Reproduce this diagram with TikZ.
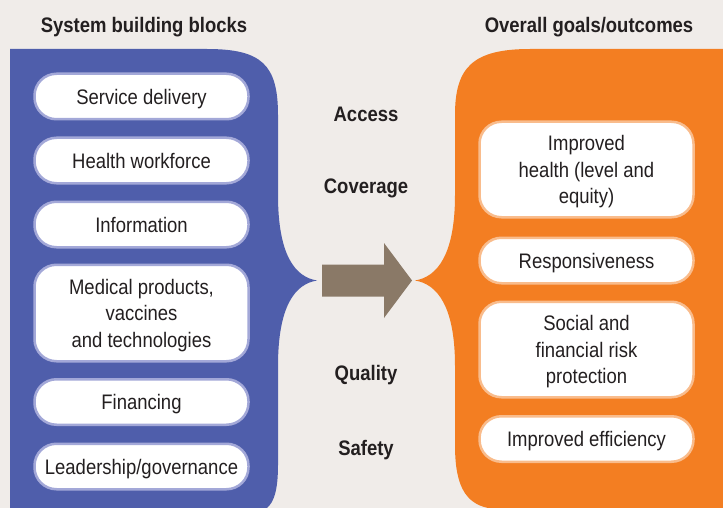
\documentclass[tikz,border=0pt]{standalone}
\usepackage{fontspec}
\setmainfont{Liberation Sans}[FakeStretch=0.88]
\usetikzlibrary{positioning}

\definecolor{paper}{HTML}{F0ECE9}
\definecolor{sysblue}{HTML}{4F5EAB}
\definecolor{goalorange}{HTML}{F37E22}
\definecolor{arrowbrown}{HTML}{8A7967}
\definecolor{blueedge}{HTML}{A3A8D8}
\definecolor{orangeedge}{HTML}{F9BC8C}
\definecolor{ink}{HTML}{231F20}

\begin{document}
\begin{tikzpicture}[x=1pt, y=-1pt,
	block/.style={rectangle, rounded corners=22pt, draw=blueedge, line width=2.5pt, fill=white, minimum width=214pt, minimum height=45.5pt, align=center, text=ink, inner sep=2pt, text depth=0pt, font=\fontsize{21}{26.5}\selectfont},
	goal/.style={block, draw=orangeedge},
	heading/.style={text=ink, font=\fontsize{21}{24}\selectfont\bfseries},
]
	\useasboundingbox (0,0) rectangle (723,508);
	\fill[paper] (0,0) rectangle (723,508);

	% Blue panel (left)
	\fill[sysblue] (10,508) -- (10,49) -- (207,49) .. controls (262,49) and (278,65) .. (278,115)
		-- (278,195) .. controls (278,255) and (295,277) .. (317,280.5)
		.. controls (295,284) and (278,306) .. (278,366)
		-- (278,465) .. controls (278,490) and (274,502) .. (267,508) -- cycle;

	% Orange panel (right)
	\fill[goalorange] (723,49) -- (530,49) .. controls (472,49) and (455,68) .. (455,115)
		-- (455,195) .. controls (455,255) and (437,277) .. (415,280.5)
		.. controls (437,284) and (455,306) .. (455,366)
		-- (455,445) .. controls (455,485) and (465,503) .. (488,508) -- (723,508) -- cycle;

	% Big arrow (middle)
	\fill[arrowbrown] (322,264.5) -- (384,264.5) -- (384,243) -- (412,280.5) -- (384,318) -- (384,296.5) -- (322,296.5) -- cycle;

	% Titles
	\node[heading] (systitle) at (144,27.5) {System building blocks};
	\node[heading] (goaltitle) at (589,27.5) {Overall goals/outcomes};

	% Building blocks (left)
	\node[block] (service) at (141.5,96.5) {Service delivery};
	\node[block] (workforce) at (141.5,160.5) {Health workforce};
	\node[block] (info) at (141.5,224.5) {Information};
	\node[block, minimum height=96.5pt] (medical) at (141.5,313) {Medical products,\\vaccines\\and technologies};
	\node[block] (financing) at (141.5,402) {Financing};
	\node[block] (leadership) at (141.5,466.5) {Leadership/governance};

	% Middle labels
	\node[heading] (access) at (366,114) {Access};
	\node[heading] (coverage) at (366,188) {Coverage};
	\node[heading] (quality) at (366,375) {Quality};
	\node[heading] (safety) at (366,450) {Safety};

	% Goals (right)
	\node[goal, minimum height=95.5pt] (health) at (586.5,169.5) {Improved\\health (level and\\equity)};
	\node[goal] (respons) at (586.5,260.5) {Responsiveness};
	\node[goal, minimum height=95.5pt] (risk) at (586.5,349.5) {Social and\\financial risk\\protection};
	\node[goal] (efficiency) at (586.5,439) {Improved efficiency};

\end{tikzpicture}
\end{document}
